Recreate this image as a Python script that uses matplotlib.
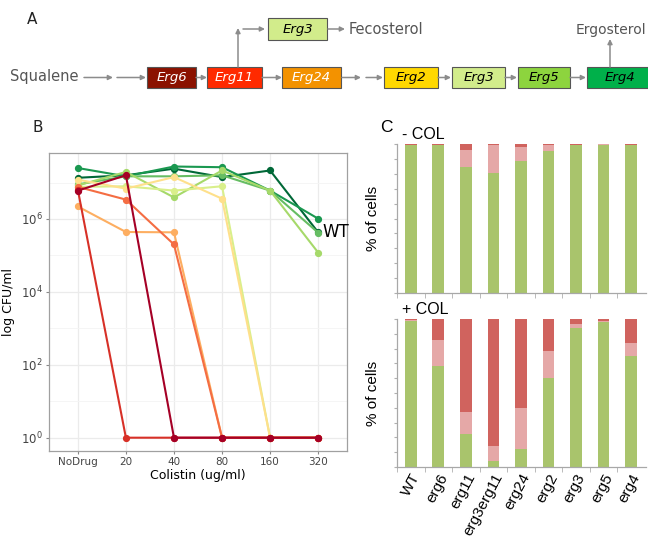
import numpy as np
import matplotlib
matplotlib.use('Agg')
import matplotlib.pyplot as plt
from matplotlib.patches import Rectangle
from matplotlib.ticker import NullFormatter

# ---------------------------------------------------------------- data
# panel B: colistin dose response, CFU/ml
doses = ['NoDrug', '20', '40', '80', '160', '320']
cfu_wt     = [1.35e7, 1.58e7, 2.40e7, 1.41e7, 2.14e7, 4.3e5]
cfu_g1     = [2.50e7, 1.48e7, 2.75e7, 2.63e7, 6.0e6, 1.02e6]
cfu_g2     = [8.9e6, 1.48e7, 1.48e7, 1.58e7, 6.0e6, 4.2e5]
cfu_g3     = [8.3e6, 1.95e7, 3.9e6, 2.14e7, 6.0e6, 1.2e5]
cfu_yg     = [7.6e6, 7.9e6, 6.0e6, 7.9e6, 1, 1]
cfu_yel    = [1.20e7, 6.8e6, 1.41e7, 3.6e6, 1, 1]
cfu_or     = [2.2e6, 4.4e5, 4.3e5, 1, 1, 1]
cfu_ored   = [7.6e6, 3.4e6, 2.0e5, 1, 1, 1]
cfu_red    = [6.3e6, 1, 1, 1, 1, 1]
cfu_maroon = [6.0e6, 1.58e7, 1, 1, 1, 1]

b_series = [cfu_wt, cfu_g1, cfu_g2, cfu_g3, cfu_yg, cfu_yel,
            cfu_or, cfu_ored, cfu_red, cfu_maroon]
b_colors = ['#006837', '#1a9850', '#66bd63', '#a6d96a', '#d9ef8b', '#fee08b',
            '#fdae61', '#f46d43', '#d73027', '#a50026']

# panel C: % of cells per class, without / with colistin
strains = ['WT', 'erg6', 'erg11', 'erg3erg11', 'erg24', 'erg2', 'erg3', 'erg5', 'erg4']
nocol_green = [99.0, 99.0, 84.5, 80.4, 88.3, 95.1, 99.3, 99.4, 99.3]
nocol_pink  = [0.5, 0.5, 11.7, 18.7, 9.5, 4.0, 0.3, 0.3, 0.3]
nocol_red   = [0.5, 0.5, 3.8, 0.9, 2.2, 0.9, 0.4, 0.3, 0.4]
col_green = [98.6, 68.2, 22.6, 4.3, 12.0, 59.8, 94.1, 98.2, 74.9]
col_pink  = [0.7, 17.4, 14.6, 10.1, 28.0, 18.5, 2.7, 0.7, 9.1]
col_red   = [0.7, 14.4, 62.8, 85.6, 60.0, 21.7, 3.2, 1.1, 16.0]

# panel A: pathway boxes
path_genes = ['Erg6', 'Erg11', 'Erg24', 'Erg2', 'Erg3', 'Erg5', 'Erg4']
path_colors = ['#8b1200', '#ff2a00', '#f39200', '#ffd800', '#d2ec8b', '#8dd43e', '#00b04a']
path_textcol = ['white', 'white', 'white', 'black', 'black', 'black', 'black']

W, H = 648, 537
fig = plt.figure(figsize=(W / 100, H / 100), dpi=100)

def px_axes(l, t, r, b):
    return fig.add_axes([l / W, 1 - b / H, (r - l) / W, (b - t) / H])

################################################################################
### panel A: pathway diagram, drawn in pixel space
axa = fig.add_axes([0, 1 - 110 / H, 1, 110 / H])
axa.set_xlim(0, W)
axa.set_ylim(110, 0)
axa.axis('off')
afont = dict(family='DejaVu Sans', color='#555555', fontsize=10.5)
arrow_kw = dict(arrowstyle='-|>', color='#8c8c8c', lw=1.1, mutation_scale=7,
                shrinkA=0, shrinkB=0)

def arrow(x0, y0, x1, y1):
    axa.annotate('', xy=(x1, y1), xytext=(x0, y0), arrowprops=arrow_kw)

def box(x0, x1, y0, y1, label, fc, tc):
    axa.add_patch(Rectangle((x0, y0), x1 - x0, y1 - y0, facecolor=fc,
                            edgecolor='#555555', lw=0.8))
    axa.text((x0 + x1) / 2, (y0 + y1) / 2 + 0.5, label, ha='center', va='center',
             fontsize=9.5, style='italic', color=tc)

box_left = [147, 207, 282, 384, 452, 518, 587]
box_right = [196, 262, 341, 438, 505, 570, 652]
for g, c, tc, x0, x1 in zip(path_genes, path_colors, path_textcol, box_left, box_right):
    box(x0, x1, 67, 88, g, c, tc)
box(268, 327, 18, 40, 'Erg3', path_colors[4], 'black')

ym = 77.5
for x0, x1 in [(84, 113), (117, 146), (196, 207), (262, 282), (342, 361),
               (366, 383), (438, 451), (505, 517), (570, 586)]:
    arrow(x0, ym, x1, ym)
arrow(238, 67, 238, 28)
arrow(243, 29, 265, 29)
arrow(328, 29, 345, 29)
arrow(610, 67, 610, 39)

axa.text(10, 77, 'Squalene', ha='left', va='center', **afont)
axa.text(349, 29, 'Fecosterol', ha='left', va='center', **afont)
axa.text(646, 30, 'Ergosterol', ha='right', va='center',
         family='DejaVu Sans', color='#555555', fontsize=10)
axa.text(27, 20, 'A', ha='left', va='center', fontsize=11, color='#222222')

################################################################################
### panel B: log CFU vs colistin
axb = px_axes(49, 153, 347, 451)
xpos = np.arange(len(doses))
for vals, col in zip(b_series, b_colors):
    axb.plot(xpos, vals, '-o', color=col, lw=1.5, ms=4.2, zorder=3)
axb.set_yscale('log')
axb.set_ylim(10 ** -0.365, 10 ** 7.81)
axb.set_xlim(-0.6, 5.6)
axb.set_xticks(xpos)
axb.set_xticklabels(doses)
axb.set_yticks([1, 1e2, 1e4, 1e6])
axb.set_yticklabels(['$10^{0}$', '$10^{2}$', '$10^{4}$', '$10^{6}$'])
axb.set_yticks([10, 1e3, 1e5, 1e7], minor=True)
axb.yaxis.set_minor_formatter(NullFormatter())
axb.set_xticks(xpos + 0.5, minor=True)
axb.grid(True, which='major', color='#ebebeb', lw=0.9)
axb.grid(True, which='minor', axis='y', color='#f4f4f4', lw=0.6)
axb.tick_params(which='minor', length=0)
axb.tick_params(which='major', length=2.5, color='#888888', labelsize=7.5,
                labelcolor='#444444', pad=2)
axb.tick_params(axis='y', which='major', labelsize=8.5)
axb.set_axisbelow(True)
for s in axb.spines.values():
    s.set_color('#a0a0a0')
    s.set_linewidth(0.9)
axb.set_xlabel('Colistin (ug/ml)', fontsize=9, labelpad=1)
axb.set_ylabel('log CFU/ml', fontsize=9, labelpad=4)
axb.annotate('WT', xy=(5, cfu_wt[-1]), xytext=(3, 0), textcoords='offset points',
             ha='left', va='center', fontsize=12)
fig.text(32 / W, 1 - 128 / H, 'B', ha='left', va='center', fontsize=11, color='#222222')

################################################################################
### panel C: stacked bars
cfont = 'Liberation Sans'
c_green, c_pink, c_red = '#a9c46c', '#e5a8a7', '#d0635e'

def stacked(ax, green, pink, red, title, labels):
    x = np.arange(len(strains))
    g = np.array(green)
    p = np.array(pink)
    r = np.array(red)
    ax.bar(x, g, width=0.42, color=c_green)
    ax.bar(x, p, width=0.42, bottom=g, color=c_pink)
    ax.bar(x, r, width=0.42, bottom=g + p, color=c_red)
    ax.set_xlim(-0.5, 8.55)
    ax.set_ylim(0, 100)
    ax.spines['top'].set_visible(False)
    ax.spines['right'].set_visible(False)
    for s in ['left', 'bottom']:
        ax.spines[s].set_color('#a8a8a8')
        ax.spines[s].set_linewidth(0.9)
    ax.set_yticks(np.arange(0, 101, 10))
    ax.set_yticklabels([])
    ax.tick_params(axis='y', length=2.5, color='#b0b0b0')
    ax.set_xticks(x)
    ax.set_xticks(np.arange(-0.5, 8.0, 1), minor=True)
    ax.tick_params(axis='x', which='major', length=0, pad=3)
    ax.tick_params(axis='x', which='minor', length=3.5, color='#b0b0b0')
    if labels:
        ax.set_xticklabels(strains, rotation=62, ha='right', va='top',
                           rotation_mode='anchor', fontsize=11, family=cfont)
    else:
        ax.set_xticklabels([])
    ax.set_ylabel('% of cells', fontsize=11, family=cfont, labelpad=6)
    ax.text(0.02, 1.015, title, transform=ax.transAxes, ha='left', va='bottom',
            fontsize=11.5, family=cfont)

axc1 = px_axes(397, 144, 646, 293)
stacked(axc1, nocol_green, nocol_pink, nocol_red, '- COL', False)
axc2 = px_axes(397, 319, 646, 467)
stacked(axc2, col_green, col_pink, col_red, '+ COL', True)
fig.text(380 / W, 1 - 127 / H, 'C', ha='left', va='center', fontsize=12.5, family=cfont)

plt.savefig('out.png', dpi=100)
